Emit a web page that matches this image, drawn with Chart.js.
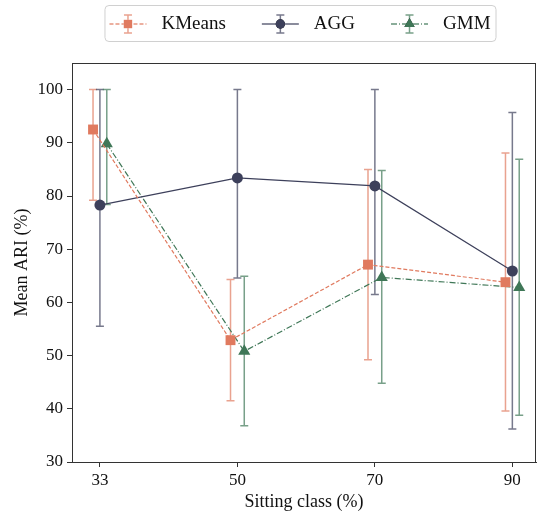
<!DOCTYPE html>
<html lang="en">
<head>
  <meta charset="UTF-8">
  <script src="https://cdn.jsdelivr.net/npm/chart.js"></script>
  <title>Mean ARI</title>
  <style>
    html, body { margin: 0; padding: 0; background: #fff; overflow: hidden; }
    .box { width: 537px; height: 513px; }
  </style>
</head>
<body>
  <div class="box"><canvas id="grafico"></canvas></div>

<script>
  // dados
  const classes = ['33', '50', '70', '90'];

  const kmeansMedia = [92.5, 52.9, 67.1, 63.8];
  const kmeansMin = [79.2, 41.5, 49.2, 39.6];
  const kmeansMax = [100, 64.3, 85.0, 88.1];

  const aggMedia = [78.3, 83.4, 81.9, 65.9];
  const aggMin = [55.5, 64.6, 61.5, 36.2];
  const aggMax = [100, 100, 100, 95.7];

  const gmmMedia = [89.8, 50.8, 64.7, 62.8];
  const gmmMin = [78.4, 36.8, 44.8, 38.8];
  const gmmMax = [100, 64.9, 84.8, 86.9];

  const yTicks = [30, 40, 50, 60, 70, 80, 90, 100];

  const fonte = "'Liberation Serif', 'DejaVu Serif', serif";

  function pontos(media, min, max, desloc) {
    return media.map(function (v, i) {
      return { x: i + desloc, y: v, lo: min[i], hi: max[i] };
    });
  }

  function alpha(hex, a) {
    const n = parseInt(hex.slice(1), 16);
    return `rgba(${n >> 16}, ${(n >> 8) & 255}, ${n & 255}, ${a})`;
  }

  const series = [
    { label: 'KMeans', cor: '#E07A5F', dash: [4, 2], estilo: 'rect', raio: 7, dados: pontos(kmeansMedia, kmeansMin, kmeansMax, -0.05) },
    { label: 'AGG', cor: '#3D405B', dash: [], estilo: 'circle', raio: 5.5, dados: pontos(aggMedia, aggMin, aggMax, 0) },
    { label: 'GMM', cor: '#3F7757', dash: [6, 2, 1, 2], estilo: 'triangle', raio: 7, dados: pontos(gmmMedia, gmmMin, gmmMax, 0.05) }
  ];

  // barras de erro desenhadas com as escalas do Chart.js
  const barrasErro = {
    id: 'barrasErro',
    beforeDatasetsDraw(chart) {
      const ctx = chart.ctx;
      const xs = chart.scales.x, ys = chart.scales.y;
      chart.data.datasets.forEach(function (ds) {
        ctx.save();
        ctx.strokeStyle = alpha(ds.borderColor, 0.7);
        ctx.lineWidth = 1.5;
        ds.data.forEach(function (p) {
          const x = xs.getPixelForValue(p.x);
          const y1 = ys.getPixelForValue(p.lo);
          const y2 = ys.getPixelForValue(p.hi);
          ctx.beginPath();
          ctx.moveTo(x, y1); ctx.lineTo(x, y2);
          ctx.moveTo(x - 4, y1); ctx.lineTo(x + 4, y1);
          ctx.moveTo(x - 4, y2); ctx.lineTo(x + 4, y2);
          ctx.stroke();
        });
        ctx.restore();
      });
    }
  };

  // moldura completa em volta da area do grafico
  const moldura = {
    id: 'moldura',
    afterDraw(chart) {
      const a = chart.chartArea, ctx = chart.ctx;
      ctx.save();
      ctx.strokeStyle = '#333';
      ctx.lineWidth = 1;
      ctx.strokeRect(a.left + 0.5, a.top + 0.5, a.right - a.left - 1, a.bottom - a.top);
      ctx.restore();
    }
  };

  // legenda no estilo errorbar
  const legenda = {
    id: 'legenda',
    afterDraw(chart) {
      const ctx = chart.ctx;
      ctx.save();
      ctx.font = '19px ' + fonte;
      const icone = 37, gapTexto = 15, gapItem = 36, padX = 5;
      const larguras = chart.data.datasets.map(ds => ctx.measureText(ds.label).width);
      let total = padX * 2;
      larguras.forEach(function (w, i) { total += icone + gapTexto + w + (i < larguras.length - 1 ? gapItem : 0); });
      const cx = 300;
      let x0 = cx - total / 2;
      const top = 5, alt = 36, cy = top + alt / 2 + 1;

      ctx.beginPath();
      ctx.roundRect(x0 + 0.5, top + 0.5, total, alt, 4);
      ctx.fillStyle = 'rgba(255,255,255,0.8)';
      ctx.fill();
      ctx.strokeStyle = '#d0d0d0';
      ctx.lineWidth = 1;
      ctx.stroke();

      let x = x0 + padX;
      chart.data.datasets.forEach(function (ds, i) {
        const mx = x + icone / 2;
        // linha
        ctx.save();
        ctx.strokeStyle = alpha(ds.borderColor, 0.8);
        ctx.lineWidth = 1.3;
        ctx.setLineDash(ds.borderDash);
        ctx.beginPath();
        ctx.moveTo(x, cy); ctx.lineTo(x + icone, cy);
        ctx.stroke();
        ctx.restore();
        // barra de erro
        ctx.strokeStyle = alpha(ds.borderColor, 0.7);
        ctx.lineWidth = 1.5;
        ctx.setLineDash([]);
        ctx.beginPath();
        ctx.moveTo(mx, cy - 9); ctx.lineTo(mx, cy + 9);
        ctx.moveTo(mx - 4, cy - 9); ctx.lineTo(mx + 4, cy - 9);
        ctx.moveTo(mx - 4, cy + 9); ctx.lineTo(mx + 4, cy + 9);
        ctx.stroke();
        // marcador
        Chart.helpers.drawPoint(ctx, {
          pointStyle: ds.pointStyle, radius: ds.pointRadius * 0.85, rotation: 0, borderWidth: 0
        }, mx, cy);
        ctx.fillStyle = ds.borderColor;
        ctx.fill();
        // texto
        ctx.fillStyle = '#111';
        ctx.textBaseline = 'middle';
        ctx.textAlign = 'left';
        ctx.fillText(ds.label, x + icone + gapTexto, cy);
        x += icone + gapTexto + larguras[i] + gapItem;
      });
      ctx.restore();
    }
  };

  const dados = {
    datasets: series.map(function (s) {
      return {
        label: s.label,
        data: s.dados,
        borderColor: s.cor,
        backgroundColor: s.cor,
        borderWidth: 1.2,
        borderDash: s.dash,
        pointStyle: s.estilo,
        pointRadius: s.raio,
        pointBorderWidth: 0,
        pointBackgroundColor: s.cor,
        tension: 0
      };
    })
  };

  const config = {
    type: 'line',
    data: dados,
    options: {
      responsive: true,
      maintainAspectRatio: false,
      animation: false,
      layout: { autoPadding: false, padding: { top: 63, right: 1, left: 0, bottom: 0 } },
      plugins: {
        legend: { display: false },
        tooltip: { enabled: false }
      },
      scales: {
        x: {
          type: 'linear',
          min: -0.203,
          max: 3.172,
          afterBuildTicks: function (s) { s.ticks = classes.map((c, i) => ({ value: i })); },
          afterFit: function (s) { s.height = 51; s.paddingLeft = 0; s.paddingRight = 0; },
          ticks: {
            callback: function (v) { return classes[v]; },
            font: { family: fonte, size: 17 },
            color: '#111',
            padding: 3,
            maxRotation: 0
          },
          grid: { drawOnChartArea: false, drawTicks: true, tickLength: 5, color: '#333' },
          border: { color: '#333' },
          title: {
            display: true,
            text: 'Sitting class (%)',
            font: { family: fonte, size: 18 },
            color: '#111',
            padding: { top: 3, bottom: 0 }
          }
        },
        y: {
          min: 30,
          max: 105,
          afterBuildTicks: function (s) { s.ticks = yTicks.map(v => ({ value: v })); },
          afterFit: function (s) { s.width = 72; s.paddingTop = 0; s.paddingBottom = 0; },
          ticks: {
            font: { family: fonte, size: 17 },
            color: '#111',
            padding: 4
          },
          grid: { drawOnChartArea: false, drawTicks: true, tickLength: 5, color: '#333' },
          border: { color: '#333' },
          title: {
            display: true,
            text: 'Mean ARI (%)',
            font: { family: fonte, size: 18 },
            color: '#111',
            padding: { top: 11, bottom: 4 }
          }
        }
      }
    },
    plugins: [barrasErro, moldura, legenda]
  };

  let meuGrafico = new Chart(document.getElementById('grafico'), config);
</script>
</body>
</html>
